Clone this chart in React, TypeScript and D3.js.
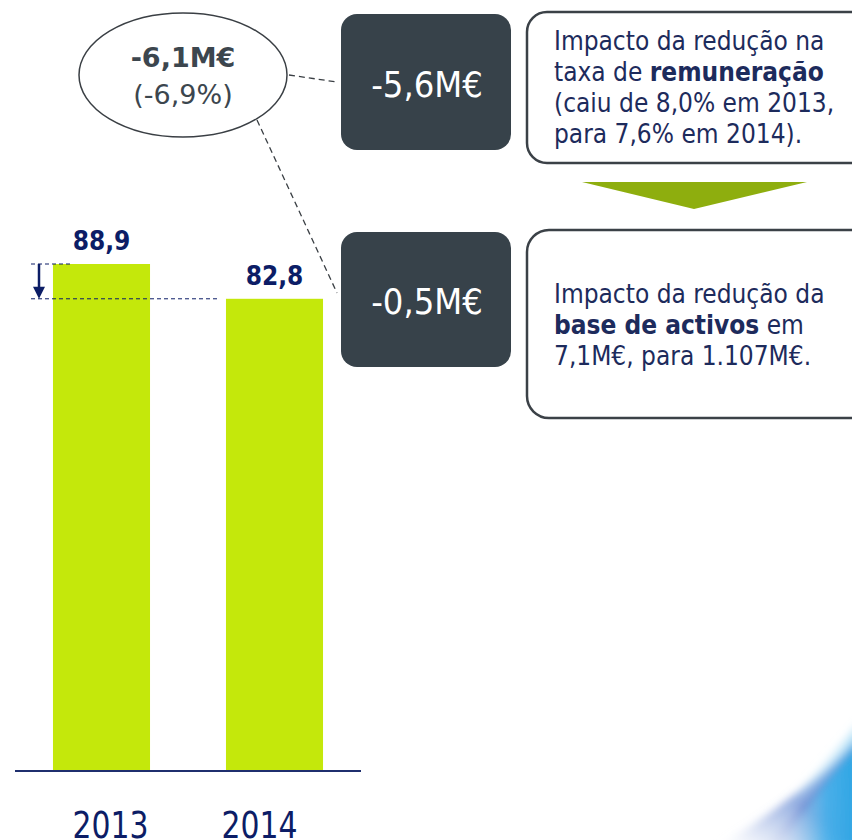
import React from "react";
import * as d3 from "d3";

const categories = ["2013", "2014"];
const values = [88.9, 82.8];
const valueLabels = ["88,9", "82,8"];
const totalChange = "-6,1M€";
const totalChangePct = "(-6,9%)";
const impacts = ["-5,6M€", "-0,5M€"];

const W = 852;
const H = 840;
const NAVY = "#0c1d66";
const LIME = "#c4e80b";
const DARK = "#37424a";
const TEXTNAVY = "#1d2b5c";
const FONT = "'DejaVu Sans Condensed', 'DejaVu Sans', sans-serif";
const FONTW = "'DejaVu Sans', sans-serif";
const labelDx = [9, -15];

export default function App() {
  const x = d3
    .scaleBand<string>()
    .domain(categories)
    .range([15, 361])
    .paddingInner(0.439)
    .paddingOuter(0.2195);
  const y = d3.scaleLinear().domain([0, 88.9]).range([771, 264]);
  const yTop = y(values[0]);
  const yLow = y(values[1]);

  return (
    <div style={{ position: "absolute", left: 0, top: 0 }}>
      <svg width={W} height={H} style={{ display: "block", background: "#fff" }}>
        <defs>
          <linearGradient id="sw1" x1="0" y1="1" x2="1" y2="0">
            <stop offset="0" stopColor="#ffffff" stopOpacity="0" />
            <stop offset="0.5" stopColor="#3a63c4" stopOpacity="0.75" />
            <stop offset="1" stopColor="#3aa6e4" stopOpacity="0.95" />
          </linearGradient>
          <linearGradient id="sw2" x1="0" y1="0.5" x2="1" y2="0.5">
            <stop offset="0" stopColor="#ffffff" stopOpacity="0" />
            <stop offset="0.6" stopColor="#45b4ec" stopOpacity="0.85" />
            <stop offset="1" stopColor="#2aa3e2" stopOpacity="1" />
          </linearGradient>
          <linearGradient id="sw3" x1="0" y1="0" x2="1" y2="0">
            <stop offset="0" stopColor="#ffffff" stopOpacity="0" />
            <stop offset="1" stopColor="#a8dcf6" stopOpacity="0.8" />
          </linearGradient>
          <filter id="blur" x="-20%" y="-20%" width="140%" height="140%">
            <feGaussianBlur stdDeviation="4" />
          </filter>
        </defs>

        {/* swoosh decoration */}
        <g filter="url(#blur)">
          <path d="M 710 850 C 765 820, 820 780, 860 735 L 860 850 Z" fill="url(#sw1)" />
          <path d="M 775 850 C 805 812, 832 772, 860 745 L 860 850 Z" fill="url(#sw2)" />
          <path d="M 745 850 C 785 805, 818 772, 860 722 L 860 737 C 822 782, 792 812, 765 850 Z" fill="url(#sw3)" />
        </g>

        {/* bars */}
        {categories.map((c, i) => (
          <rect
            key={c}
            x={x(c)}
            y={y(values[i])}
            width={x.bandwidth()}
            height={y(0) - y(values[i])}
            fill={LIME}
          />
        ))}

        {/* axis */}
        <line x1={15} x2={361} y1={y(0)} y2={y(0)} stroke="#1f2f6e" strokeWidth={2.2} />

        {/* value labels */}
        {categories.map((c, i) => (
          <text
            key={c}
            x={(x(c) as number) + x.bandwidth() / 2}
            y={y(values[i]) - 14}
            textAnchor="middle"
            fontFamily={FONT}
            fontWeight="bold"
            fontSize={26}
            fill={NAVY}
          >
            {valueLabels[i]}
          </text>
        ))}

        {/* year labels */}
        {categories.map((c, i) => (
          <text
            key={c}
            x={(x(c) as number) + x.bandwidth() / 2 + labelDx[i]}
            y={838}
            textAnchor="middle"
            fontFamily={FONT}
            fontSize={37}
            fill={NAVY}
            textLength={76}
            lengthAdjust="spacingAndGlyphs"
          >
            {c}
          </text>
        ))}

        {/* difference guides */}
        <line x1={31} x2={72} y1={yTop} y2={yTop} stroke={NAVY} strokeWidth={1} strokeDasharray="4 3" />
        <line x1={31} x2={220} y1={yLow} y2={yLow} stroke={NAVY} strokeWidth={1} strokeDasharray="4 3" />
        <line x1={39} x2={39} y1={yTop} y2={yLow - 10} stroke={NAVY} strokeWidth={2.5} />
        <path d={`M 33 ${yLow - 12} L 45 ${yLow - 12} L 39 ${yLow} Z`} fill={NAVY} />

        {/* ellipse */}
        <ellipse cx={183} cy={75} rx={104} ry={62} fill="#fff" stroke="#3a3f44" strokeWidth={1.5} />
        <text x={183} y={67} textAnchor="middle" fontFamily={FONTW} fontWeight="bold" fontSize={27} fill="#3c464e">
          {totalChange}
        </text>
        <text x={183} y={104} textAnchor="middle" fontFamily={FONTW} fontSize={27} fill="#3c464e">
          {totalChangePct}
        </text>

        {/* connectors */}
        <line x1={289} y1={75} x2={337} y2={82} stroke="#3a3f44" strokeWidth={1.3} strokeDasharray="6 4" />
        <line x1={257} y1={120} x2={337} y2={293} stroke="#3a3f44" strokeWidth={1.3} strokeDasharray="6 4" />

        {/* dark boxes */}
        <rect x={341} y={14} width={170} height={136} rx={16} fill={DARK} />
        <text x={427} y={97} textAnchor="middle" fontFamily={FONT} fontSize={36} fill="#fff">
          {impacts[0]}
        </text>
        <rect x={341} y={232} width={170} height={135} rx={16} fill={DARK} />
        <text x={427} y={314} textAnchor="middle" fontFamily={FONT} fontSize={36} fill="#fff">
          {impacts[1]}
        </text>

        {/* right boxes */}
        <rect x={527} y={12} width={345} height={151} rx={20} fill="#fff" stroke="#3b4147" strokeWidth={2.5} />
        <text fontFamily={FONT} fontSize={26} fill={TEXTNAVY}>
          <tspan x={554} y={50}>Impacto da redução na</tspan>
          <tspan x={554} y={81}>
            taxa de <tspan fontWeight="bold">remuneração</tspan>
          </tspan>
          <tspan x={554} y={112}>(caiu de 8,0% em 2013,</tspan>
          <tspan x={554} y={143}>para 7,6% em 2014).</tspan>
        </text>

        <path d="M 582 182 L 807 182 L 694 209 Z" fill="#8eae0e" />

        <rect x={527} y={230} width={345} height={188} rx={22} fill="#fff" stroke="#3b4147" strokeWidth={2.5} />
        <text fontFamily={FONT} fontSize={26} fill={TEXTNAVY}>
          <tspan x={554} y={303}>Impacto da redução da</tspan>
          <tspan x={554} y={334}>
            <tspan fontWeight="bold">base de activos</tspan> em
          </tspan>
          <tspan x={554} y={365}>7,1M€, para 1.107M€.</tspan>
        </text>
      </svg>
    </div>
  );
}
